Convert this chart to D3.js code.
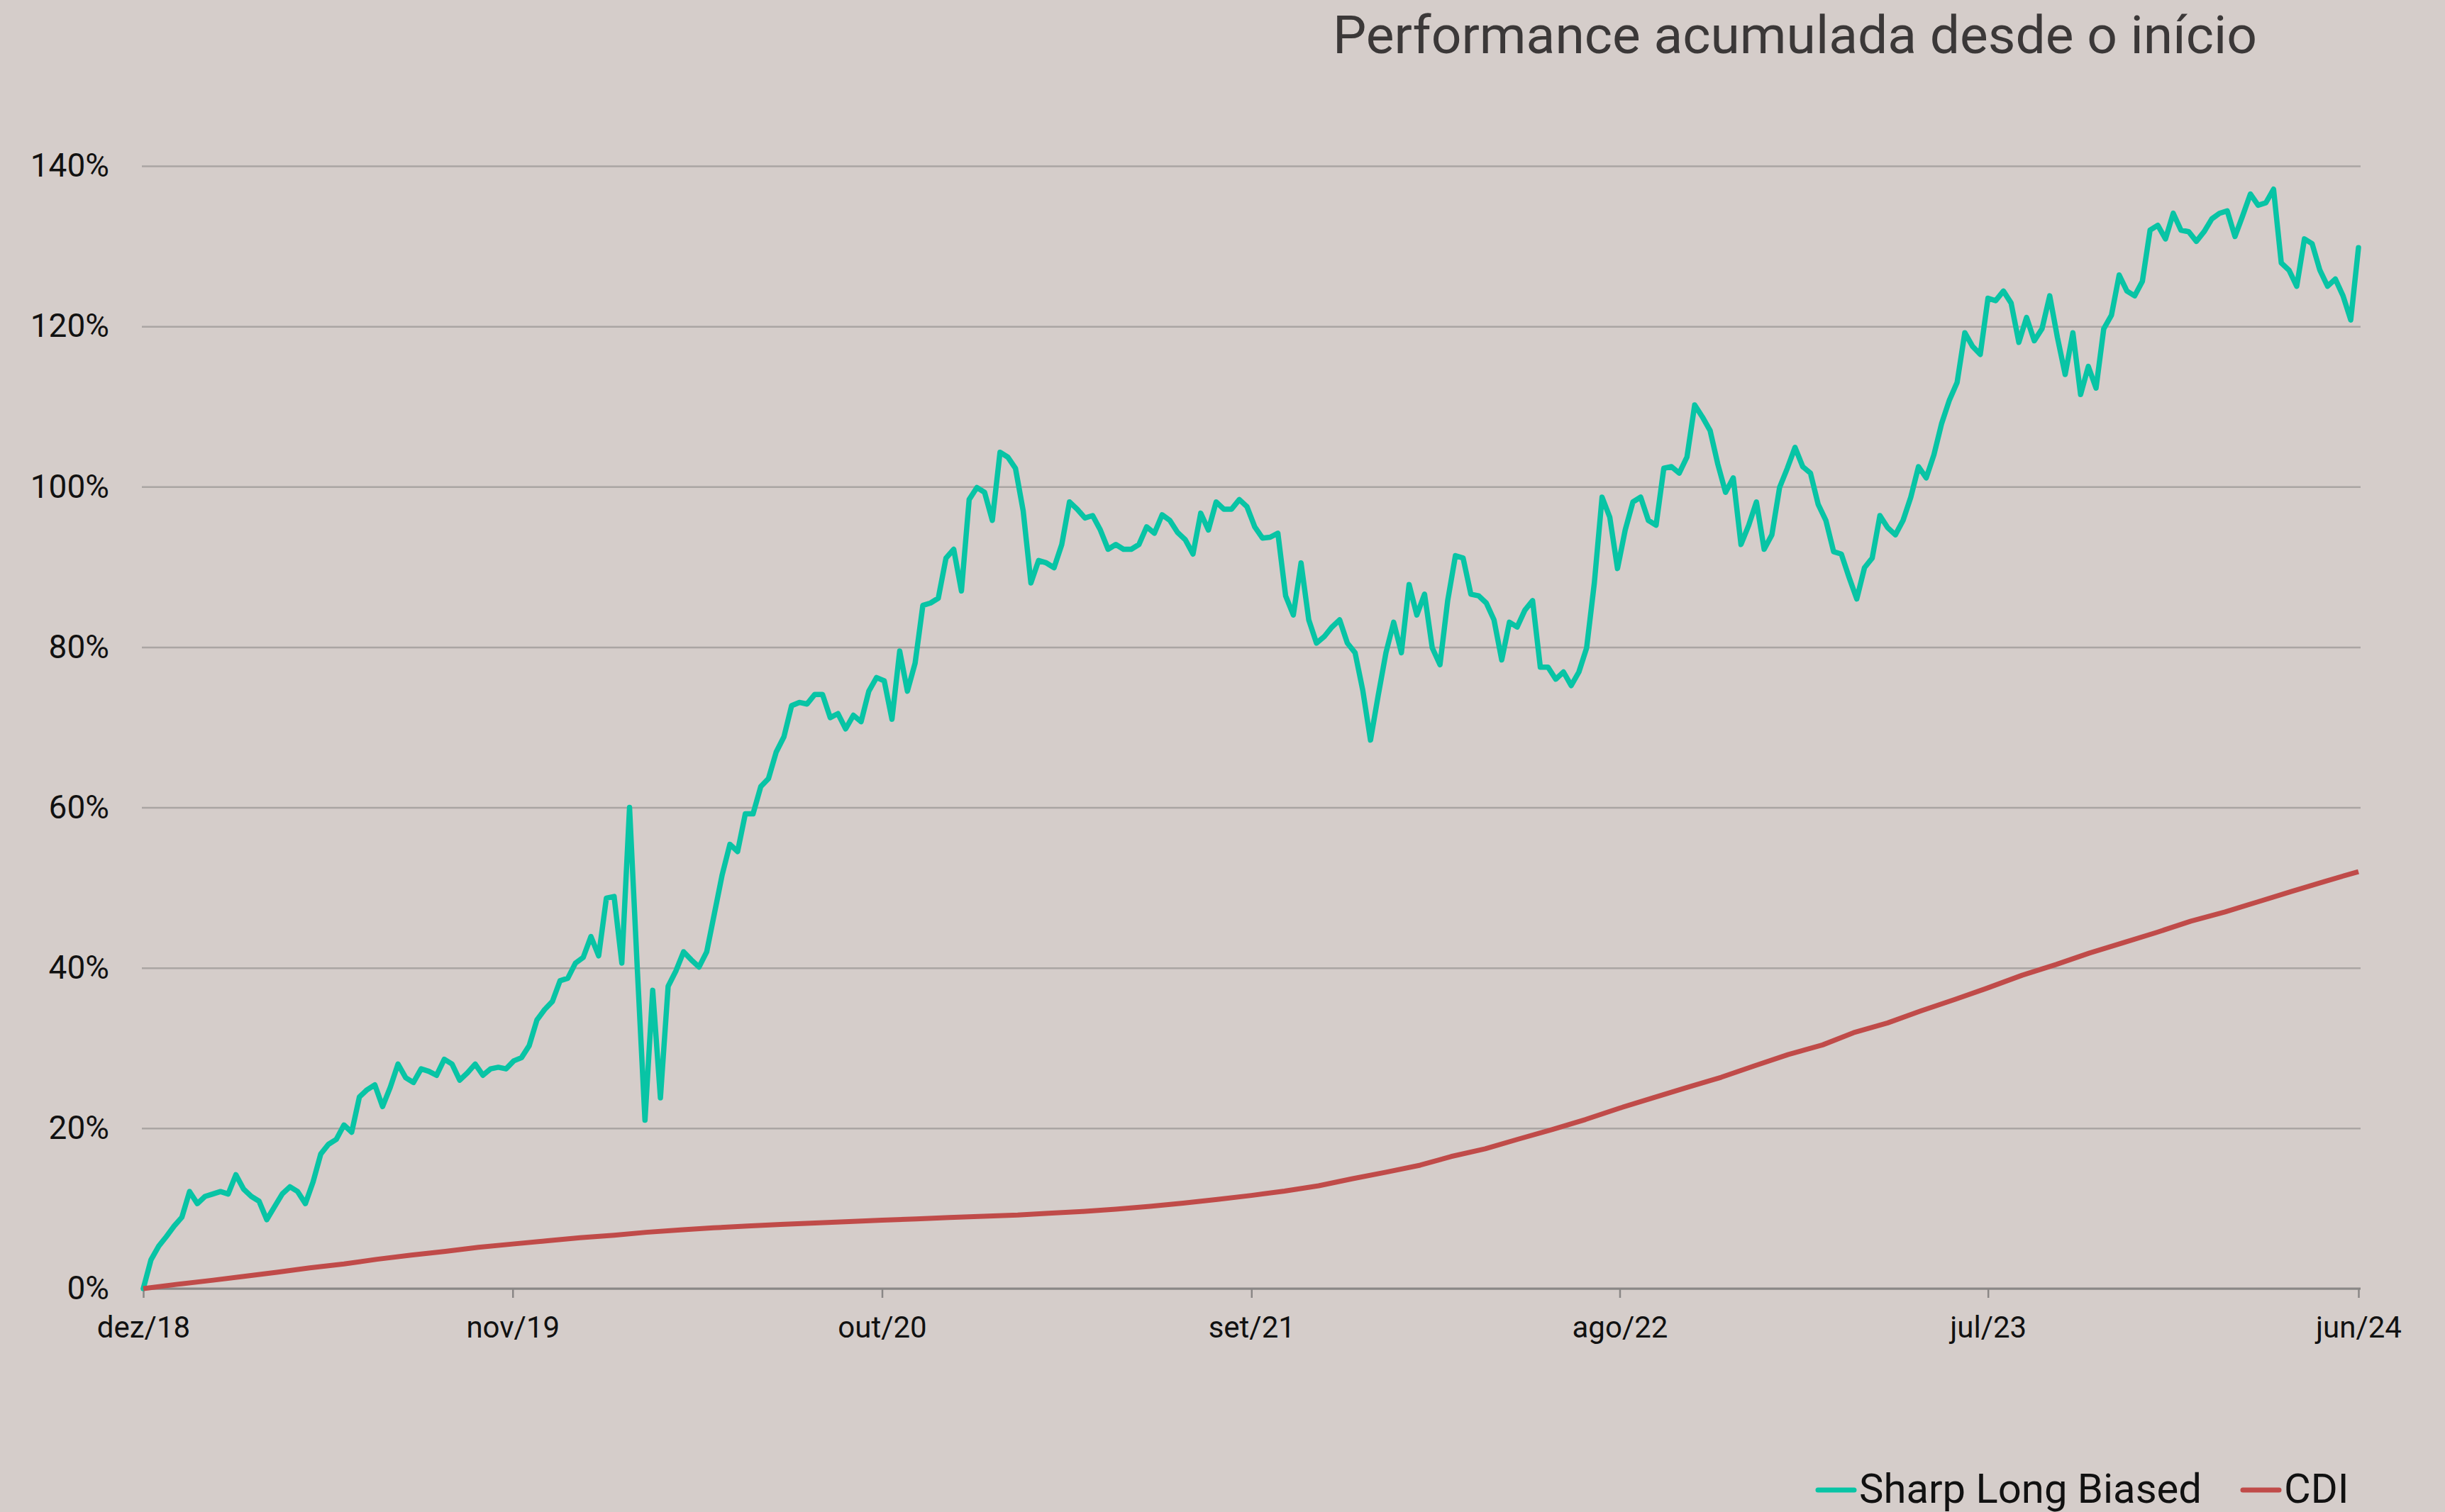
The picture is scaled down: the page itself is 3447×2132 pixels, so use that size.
<!DOCTYPE html>
<html>
<head>
<meta charset="utf-8">
<script src="https://cdn.jsdelivr.net/npm/d3@7"></script>
<style>
  html, body { margin: 0; padding: 0; background: #d5cdca; }
  svg { display: block; font-family: Roboto, sans-serif; }
</style>
</head>
<body>
<svg id="chart"></svg>
<script>
// weekly closes (fridays), cumulative % since start
const startDate = '2018-12-28';
const endDate = '2024-06-28';

const sharp = [
  0, 3.6, 5.3, 6.5, 7.8, 8.9, 12.1, 10.6, 11.5, 11.8, 12.1, 11.8, 14.2, 12.4, 11.5, 10.9,
  8.6, 10.2, 11.8, 12.7, 12.1, 10.6, 13.3, 16.8, 18, 18.6, 20.4, 19.5, 23.9, 24.8, 25.4, 22.7,
  25.1, 28, 26.3, 25.7, 27.4, 27.1, 26.6, 28.6, 28, 26, 26.9, 28, 26.6, 27.4, 27.6, 27.4,
  28.4, 28.8, 30.3, 33.5, 34.8, 35.8, 38.4, 38.7, 40.6, 41.3, 43.9, 41.5, 48.7, 48.9, 40.6, 60,
  40, 21, 37.2, 23.8, 37.7, 39.6, 42, 41, 40.1, 42, 46.8, 51.6, 55.4, 54.5, 59.2, 59.2,
  62.6, 63.6, 66.9, 68.8, 72.7, 73.1, 72.9, 74.1, 74.1, 71.2, 71.7, 69.8, 71.5, 70.7, 74.5, 76.2,
  75.8, 71, 79.5, 74.5, 78, 85.2, 85.5, 86.1, 91.1, 92.2, 87, 98.4, 99.9, 99.3, 95.8, 104.3,
  103.7, 102.3, 97, 88, 90.8, 90.5, 89.9, 92.8, 98.1, 97.2, 96.1, 96.4, 94.6, 92.2, 92.8, 92.2,
  92.2, 92.8, 95, 94.2, 96.5, 95.8, 94.3, 93.4, 91.6, 96.7, 94.6, 98.1, 97.2, 97.2, 98.4, 97.5,
  95, 93.6, 93.7, 94.2, 86.4, 84, 90.5, 83.4, 80.5, 81.3, 82.5, 83.4, 80.5, 79.3, 74.6, 68.4,
  74, 79.3, 83.1, 79.3, 87.8, 84, 86.6, 79.9, 77.8, 85.8, 91.4, 91.1, 86.6, 86.4, 85.5, 83.4,
  78.4, 83.1, 82.5, 84.6, 85.8, 77.5, 77.5, 76, 76.9, 75.2, 76.9, 79.9, 88, 98.7, 96.2, 89.8,
  94.6, 98.1, 98.7, 95.8, 95.2, 102.3, 102.5, 101.7, 103.7, 110.2, 108.7, 107, 102.8, 99.3, 101.1, 92.8,
  95.2, 98.1, 92.2, 94, 99.9, 102.3, 104.9, 102.5, 101.7, 97.8, 95.8, 91.9, 91.6, 88.7, 86, 89.9,
  91.1, 96.4, 94.9, 94, 95.8, 98.7, 102.5, 101.1, 104, 107.9, 110.8, 113, 119.2, 117.5, 116.5, 123.5,
  123.2, 124.4, 122.9, 118, 121.1, 118.2, 119.7, 123.8, 118.6, 114, 119.2, 111.5, 115, 112.3, 119.7, 121.4,
  126.4, 124.4, 123.8, 125.6, 132, 132.6, 130.9, 134.1, 132, 131.8, 130.6, 131.8, 133.4, 134.1, 134.4, 131.2,
  133.8, 136.5, 135.1, 135.4, 137.1, 127.9, 127, 125, 130.9, 130.3, 127, 125, 125.9, 123.8, 120.8, 129.8
];

// monthly (day 28), cumulative %
const cdi = [
  0, 0.54, 1.03, 1.51, 2.04, 2.59, 3.07, 3.66, 4.17, 4.65, 5.16, 5.56, 5.95,
  6.35, 6.66, 7.02, 7.32, 7.58, 7.80, 8.01, 8.18, 8.35, 8.53, 8.69, 8.86,
  9.03, 9.17, 9.39, 9.62, 9.91, 10.25, 10.65, 11.13, 11.62, 12.16, 12.82, 13.69,
  14.52, 15.39, 16.47, 17.43, 18.64, 19.85, 21.09, 22.51, 23.82, 25.08, 26.35, 27.77,
  29.20, 30.39, 31.91, 33.13, 34.62, 36.06, 37.51, 39.08, 40.43, 41.84, 43.14, 44.42,
  45.82, 46.98, 48.20, 49.52, 50.76, 52.0
];

const tickDates = ['2018-12-28', '2019-11-28', '2020-10-28', '2021-09-28', '2022-08-28', '2023-07-28', '2024-06-28'];
const tickLabels = ['dez/18', 'nov/19', 'out/20', 'set/21', 'ago/22', 'jul/23', 'jun/24'];
const yTicks = [0, 20, 40, 60, 80, 100, 120, 140];

const seriesNames = ['Sharp Long Biased', 'CDI'];
const colors = ['#08c4a5', '#c04b49'];

const W = 3447, H = 2132;
const margin = { top: 234, right: 119, bottom: 315, left: 202 };
const font = 'Roboto, sans-serif';
const parse = d3.timeParse('%Y-%m-%d');

const start = parse(startDate);
const end = parse(endDate);
const weeks = d3.timeFriday.range(start, d3.timeDay.offset(end, 1));
const sharpData = sharp.map((v, i) => ({ date: weeks[i], value: v }));
const cdiData = cdi.map((v, i) => ({ date: d3.timeMonth.offset(start, i), value: v }));

const svg = d3.select('#chart')
  .attr('width', W)
  .attr('height', H);

svg.append('rect')
  .attr('width', W)
  .attr('height', H)
  .attr('fill', '#d5cdca');

const innerW = W - margin.left - margin.right;
const innerH = H - margin.top - margin.bottom;

const chart = svg.append('g')
  .attr('transform', `translate(${margin.left}, ${margin.top})`);

const x = d3.scaleTime()
  .domain([start, end])
  .range([0, innerW - 3]);

const y = d3.scaleLinear()
  .domain([0, 140])
  .range([innerH, 0]);

// grid + y labels
const yAxis = d3.axisLeft(y)
  .tickValues(yTicks)
  .tickSize(-innerW)
  .tickPadding(48)
  .tickFormat(d => d + '%');

const yg = chart.append('g')
  .call(yAxis)
  .attr('font-family', font)
  .attr('font-size', 46);
yg.select('.domain').remove();
yg.selectAll('line')
  .attr('stroke', '#aaa5a3')
  .attr('stroke-width', 2.5)
  .attr('x1', -2);
yg.selectAll('text')
  .attr('fill', '#111');

// x axis
const xAxis = d3.axisBottom(x)
  .tickValues(tickDates.map(parse))
  .tickFormat((d, i) => tickLabels[i])
  .tickSize(13)
  .tickSizeOuter(0)
  .tickPadding(26);

const xg = chart.append('g')
  .attr('transform', `translate(0, ${innerH})`)
  .call(xAxis)
  .attr('font-family', font)
  .attr('font-size', 42);
xg.select('.domain')
  .attr('stroke', '#8a8786')
  .attr('stroke-width', 3)
  .attr('d', `M-2,0H${innerW}`);
xg.selectAll('line')
  .attr('stroke', '#8a8786')
  .attr('stroke-width', 2.5);
xg.selectAll('text')
  .attr('fill', '#111');

const line = d3.line()
  .x(d => x(d.date))
  .y(d => y(d.value));

chart.append('path')
  .datum(sharpData)
  .attr('d', line)
  .attr('fill', 'none')
  .attr('stroke', colors[0])
  .attr('stroke-width', 7.5)
  .attr('stroke-linejoin', 'round')
  .attr('stroke-linecap', 'round');

chart.append('path')
  .datum(cdiData)
  .attr('d', line)
  .attr('fill', 'none')
  .attr('stroke', colors[1])
  .attr('stroke-width', 7)
  .attr('stroke-linejoin', 'round');

// title
svg.append('text')
  .attr('x', 1879)
  .attr('y', 75)
  .attr('font-size', 75)
  .attr('fill', '#3b3838')
  .text('Performance acumulada desde o início');

// legend
const legendX = [2560, 3159];
const lg = svg.append('g');
seriesNames.forEach((name, i) => {
  lg.append('line')
    .attr('x1', legendX[i] + 3)
    .attr('x2', legendX[i] + 54)
    .attr('y1', 2101)
    .attr('y2', 2101)
    .attr('stroke', colors[i])
    .attr('stroke-width', 7)
    .attr('stroke-linecap', 'round');
  lg.append('text')
    .attr('x', legendX[i] + 61)
    .attr('y', 2119)
    .attr('font-size', 58)
    .attr('fill', '#111')
    .text(name);
});
</script>
</body>
</html>
